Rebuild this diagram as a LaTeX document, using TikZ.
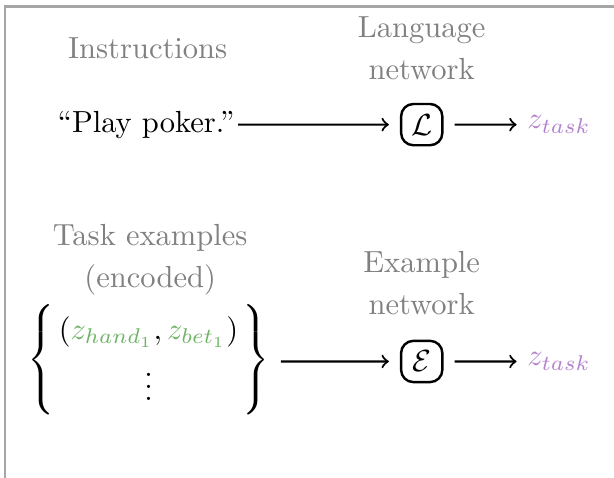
\documentclass[tikz,border=0pt]{standalone}
\usetikzlibrary{calc}
\definecolor{gruen}{RGB}{110,180,100}
\definecolor{lila}{RGB}{180,130,205}
\tikzset{
    netz/.style={draw, thick, rounded corners=4pt, minimum size=13.5pt, inner sep=0pt, outer sep=4pt},
    titel/.style={align=center, text=black!50, font=\linespread{1.15}\selectfont},
    pfeil/.style={->, line width=0.7pt}
}

\begin{document}
\begin{tikzpicture}[scale=0.95]

\useasboundingbox (0,0) rectangle (7.44,5.79);

% Rahmen
\draw[black!35, line width=0.8pt] (0.06,0) -- (0.06,5.71) -- (7.44,5.71);

% Ueberschriften
\node[titel] (I) at (1.79,5.21) {Instructions};
\node[titel] (LN) at (5.11,5.21) {Language\\network};
\node[titel] (T) at (1.82,2.64) {Task examples\\(encoded)};
\node[titel] (EN) at (5.11,2.36) {Example\\network};

% Obere Zeile
\node[inner sep=1pt] (P) at (1.77,4.28) {``Play poker.''};
\node[netz] (L) at (5.11,4.28) {$\mathcal{L}$};
\node[anchor=west, text=lila] (Z1) at (6.26,4.28) {$z_{task}$};

% Untere Zeile
\node (S) at (1.8,1.43) {$\renewcommand{\arraystretch}{1.4}\setlength{\arraycolsep}{1.5pt}\left\{\begin{array}{c}
    (\textcolor{gruen}{z_{hand_1}}, \textcolor{gruen}{z_{bet_1}}) \\ \vdots
    \end{array}\right\}$};
\node[netz] (E) at (5.11,1.41) {$\mathcal{E}$};
\node[anchor=west, text=lila] (Z2) at (6.26,1.41) {$z_{task}$};

% Pfeile
\draw[pfeil] (P) -- (L);
\draw[pfeil] (L) -- (Z1.west);
\draw[pfeil] (S.east |- E) -- (E);
\draw[pfeil] (E) -- (Z2.west);

\end{tikzpicture}
\end{document}
